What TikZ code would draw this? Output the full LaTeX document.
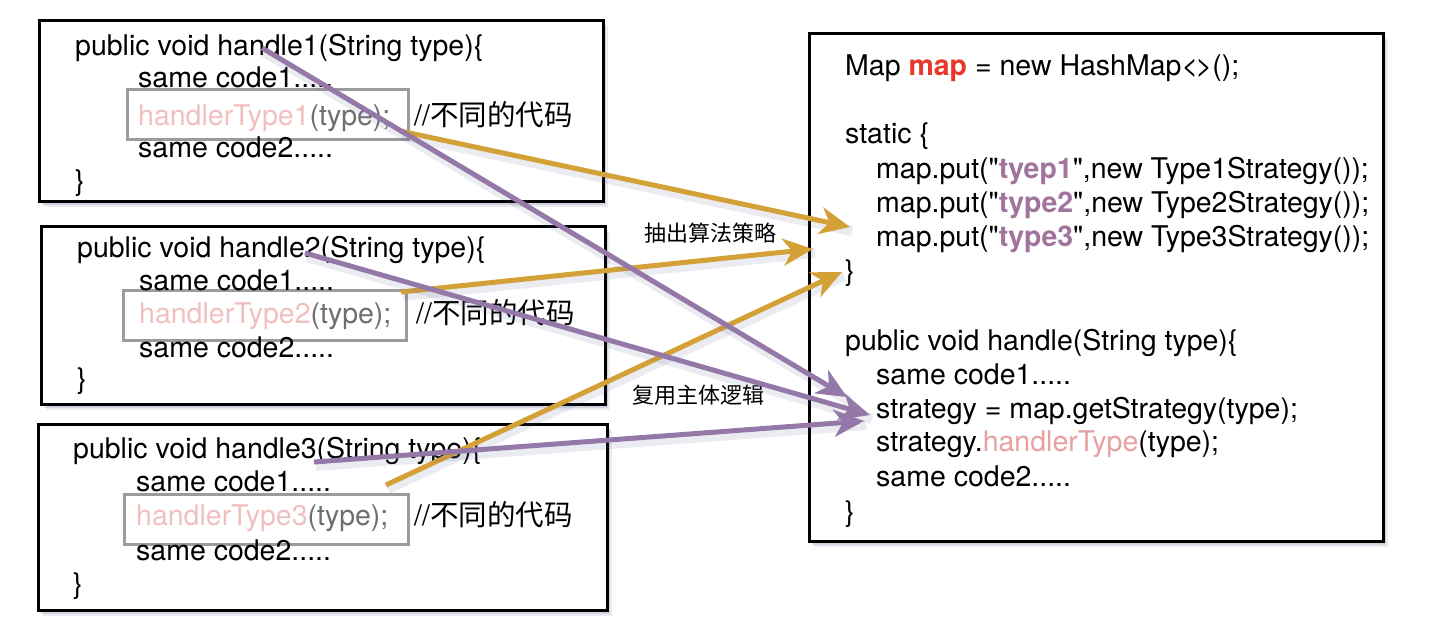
\documentclass[tikz,border=0pt]{standalone}
\usepackage{fontspec}
\setmainfont{TeX Gyre Heros}[Ligatures=TeXOff]
\newfontfamily\cjk{Noto Sans CJK SC}
\usetikzlibrary{arrows.meta,shadows}
\definecolor{arrOrange}{RGB}{212,160,56}
\definecolor{arrPurple}{RGB}{148,121,168}
\definecolor{pinkL}{RGB}{240,192,192}
\definecolor{pinkD}{RGB}{232,160,160}
\definecolor{grayT}{RGB}{110,110,110}
\definecolor{grayBox}{RGB}{155,155,155}
\definecolor{mapRed}{RGB}{232,56,43}
\definecolor{keyPurple}{RGB}{160,116,156}
\definecolor{shadowC}{RGB}{90,100,140}
\begin{document}
\begin{tikzpicture}[x=1pt,y=-1pt,
  codebox/.style={draw=black, line width=2.5pt, fill=white, anchor=north west, inner sep=0pt,
    drop shadow={shadow xshift=5pt, shadow yshift=-6pt, opacity=0.12, fill=shadowC},
    drop shadow={shadow xshift=3pt, shadow yshift=-4pt, opacity=0.18, fill=shadowC}},
  graybox/.style={draw=grayBox, line width=3pt, anchor=north west, inner sep=0pt},
  codetxt/.style={anchor=base west, inner sep=0pt, font=\fontsize{28.5}{34}\selectfont},
  lbl/.style={anchor=center, inner sep=0pt, font=\cjk\fontsize{22}{26}\selectfont},
  arrow/.style={line width=5pt, -{Stealth[length=30pt,width=27pt,inset=9pt]},
    preaction={draw=shadowC, draw opacity=0.12, line width=10pt, -, transform canvas={xshift=2pt,yshift=-4pt}}},
]
\useasboundingbox (0,0) rectangle (1430,632);

% boxes
\node[codebox, minimum width=564pt, minimum height=181pt] (b1) at (38,19) {};
\node[codebox, minimum width=564pt, minimum height=178pt] (b2) at (40,225) {};
\node[codebox, minimum width=569pt, minimum height=186pt] (b3) at (37,423) {};
\node[codebox, minimum width=574pt, minimum height=508pt] (r) at (808,32) {};

\node[graybox, minimum width=281pt, minimum height=50pt] (g1) at (126,88) {};
\node[graybox, minimum width=283pt, minimum height=50pt] (g2) at (122,289) {};
\node[graybox, minimum width=284pt, minimum height=50pt] (g3) at (123,493) {};

% box 1
\node[codetxt] (t11) at (75,55) {public void handle1(String type)\{};
\node[codetxt] (t12) at (138,87) {same code1.....};
\node[codetxt] (t13) at (138,125) {{\color{pinkL}handlerType1}{\color{grayT}(type);}};
\node[codetxt] (c1) at (414,125) {//{\cjk 不同的代码}};
\node[codetxt] (t14) at (138,157) {same code2.....};
\node[codetxt] (t15) at (75,190) {\}};

% box 2
\node[codetxt] (t21) at (77,257) {public void handle2(String type)\{};
\node[codetxt] (t22) at (139,290) {same code1.....};
\node[codetxt] (t23) at (139,323) {{\color{pinkL}handlerType2}{\color{grayT}(type);}};
\node[codetxt] (c2) at (416,323) {//{\cjk 不同的代码}};
\node[codetxt] (t24) at (139,357) {same code2.....};
\node[codetxt] (t25) at (77,388) {\}};

% box 3
\node[codetxt] (t31) at (73,458) {public void handle3(String type)\{};
\node[codetxt] (t32) at (136,491) {same code1.....};
\node[codetxt] (t33) at (136,525) {{\color{pinkL}handlerType3}{\color{grayT}(type);}};
\node[codetxt] (c3) at (414,525) {//{\cjk 不同的代码}};
\node[codetxt] (t34) at (136,560) {same code2.....};
\node[codetxt] (t35) at (73,593) {\}};

% right box
\node[codetxt] (r1) at (845,75) {Map {\color{mapRed}\textbf{map}} = new HashMap<\kern-2.5pt>();};
\node[codetxt] (r2) at (845,143) {static \{};
\node[codetxt] (r3) at (876,178) {map.put("{\color{keyPurple}\textbf{tyep1}}",new Type1Strategy());};
\node[codetxt] (r4) at (876,212) {map.put("{\color{keyPurple}\textbf{type2}}",new Type2Strategy());};
\node[codetxt] (r5) at (876,246) {map.put("{\color{keyPurple}\textbf{type3}}",new Type3Strategy());};
\node[codetxt] (r6) at (845,280) {\}};
\node[codetxt] (r7) at (845,350) {public void handle(String type)\{};
\node[codetxt] (r8) at (876,384) {same code1.....};
\node[codetxt] (r9) at (876,418) {strategy = map.getStrategy(type);};
\node[codetxt] (r10) at (876,451) {strategy.{\color{pinkD}handlerType}(type);};
\node[codetxt] (r11) at (876,486) {same code2.....};
\node[codetxt] (r12) at (845,521) {\}};

% labels
\node[lbl] (l1) at (710,233) {抽出算法策略};
\node[lbl] (l2) at (698,395) {复用主体逻辑};

% connector end points
\coordinate (o1s) at (400,131);
\coordinate (o1e) at (850,227);
\coordinate (o2s) at (401,292);
\coordinate (o2e) at (813,249);
\coordinate (o3s) at (386,485);
\coordinate (o3e) at (842,272);
\coordinate (p1s) at (262,48);
\coordinate (p1e) at (847,397);
\coordinate (p2s) at (305,253);
\coordinate (p2e) at (870,415);
\coordinate (p3s) at (314,462);
\coordinate (p3e) at (864,421);

\draw[arrow, draw=arrOrange, fill=arrOrange] (o1s) -- (o1e);
\draw[arrow, draw=arrOrange, fill=arrOrange] (o2s) -- (o2e);
\draw[arrow, draw=arrOrange, fill=arrOrange] (o3s) -- (o3e);
\draw[arrow, draw=arrPurple, fill=arrPurple] (p1s) -- (p1e);
\draw[arrow, draw=arrPurple, fill=arrPurple] (p2s) -- (p2e);
\draw[arrow, draw=arrPurple, fill=arrPurple] (p3s) -- (p3e);
\end{tikzpicture}
\end{document}
